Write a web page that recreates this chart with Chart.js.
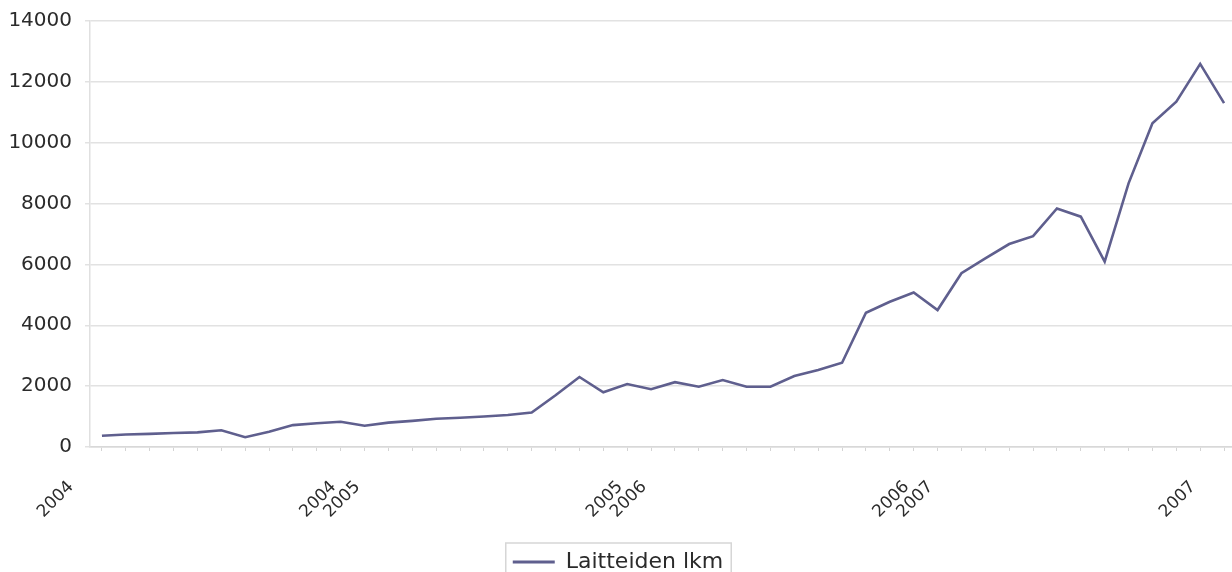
<!DOCTYPE html>
<html>
<head>
<meta charset="utf-8">
<script src="https://cdn.jsdelivr.net/npm/chart.js@4/dist/chart.umd.min.js"></script>
<style>
  html, body { margin: 0; padding: 0; background: #fff; overflow: hidden; }
  #wrap { position: absolute; left: 0; top: 0; width: 1236px; height: 583px; }
</style>
</head>
<body>
<div id="wrap"><canvas id="chart1"></canvas></div>
<script>
// monthly device counts, Jan 2004 .. Dec 2007
var seriesName = "Laitteiden lkm";
var values = [
  370, 410, 430, 460, 480, 550, 320, 500, 720, 780, 830, 700,
  800, 860, 930, 960, 1000, 1050, 1130, 1700, 2300, 1800, 2070, 1900,
  2130, 1980, 2200, 1980, 1980, 2330, 2530, 2770, 4410, 4775, 5080, 4500,
  5710, 6200, 6670, 6930, 7840, 7570, 6090, 8665, 10640, 11350, 12590, 11300
];
// only first and last month of each year carry a label
var labels = [
  "2004", "", "", "", "", "", "", "", "", "", "", "2004",
  "2005", "", "", "", "", "", "", "", "", "", "", "2005",
  "2006", "", "", "", "", "", "", "", "", "", "", "2006",
  "2007", "", "", "", "", "", "", "", "", "", "", "2007"
];
var yTicks = [0, 2000, 4000, 6000, 8000, 10000, 12000, 14000];

var lineColor = "#5f5f8e";
var textColor = "#2b2b2b";
var gridColor = "#e2e2e2";

const ctx = document.getElementById("chart1");

var myChart = new Chart(ctx, {
  type: "line",
  data: {
    labels: labels,
    datasets: [
      {
        label: seriesName,
        data: values,
        borderColor: lineColor,
        backgroundColor: lineColor,
        borderWidth: 2.6,
        pointRadius: 0,
        tension: 0,
        fill: false,
      },
    ],
  },
  options: {
    responsive: true,
    maintainAspectRatio: false,
    animation: false,
    events: [],
    layout: { padding: { top: 21, left: 0, right: 0, bottom: 0 } },
    plugins: {
      tooltip: { enabled: false },
      legend: {
        display: true,
        position: "bottom",
        labels: {
          boxWidth: 42,
          boxHeight: 3,
          padding: 8,
          color: textColor,
          font: { family: "DejaVu Sans", size: 22 },
          generateLabels: function (chart) {
            return Chart.defaults.plugins.legend.labels
              .generateLabels(chart)
              .map(function (item) {
                item.lineWidth = 0;
                item.fillStyle = lineColor;
                return item;
              });
          },
        },
      },
    },
    scales: {
      x: {
        type: "category",
        offset: true,
        grid: {
          drawOnChartArea: false,
          drawTicks: true,
          tickLength: 4,
          color: "#d4d4d4",
        },
        border: { display: true, color: "#d8d8d8", width: 1.5 },
        ticks: {
          autoSkip: false,
          maxRotation: 45,
          minRotation: 45,
          padding: 26,
          labelOffset: -31,
          color: textColor,
          font: { family: "DejaVu Sans", size: 17 },
        },
        afterFit: function (scale) {
          scale.height = 96;
          // let the plot run to the right edge like the original
          scale.paddingLeft = 0;
          scale.paddingRight = 0;
        },
      },
      y: {
        min: 0,
        max: 14000,
        afterBuildTicks: function (scale) {
          scale.ticks = yTicks.map(function (v) { return { value: v }; });
        },
        grid: {
          color: gridColor,
          lineWidth: 1.5,
          tickLength: 5,
        },
        border: { display: true, color: "#e0e0e0", width: 1.5 },
        ticks: {
          padding: 13,
          color: textColor,
          font: { family: "DejaVu Sans", size: 20 },
          callback: function (value) {
            return String(value);
          },
        },
        afterFit: function (scale) {
          scale.width = 90;
          scale.paddingTop = 0;
          scale.paddingBottom = 0;
        },
      },
    },
  },
  plugins: [
    {
      id: "legendFrame",
      afterDraw: function (chart) {
        var lg = chart.legend;
        if (!lg || !lg.legendHitBoxes || !lg.legendHitBoxes.length) return;
        var hb = lg.legendHitBoxes[0];
        var c = chart.ctx;
        var cy = hb.top + hb.height / 2;
        c.save();
        c.strokeStyle = "#d6d6d6";
        c.lineWidth = 1.5;
        c.strokeRect(hb.left - 7, cy - 19, hb.width + 15, 60);
        c.restore();
      },
    },
  ],
});
</script>
</body>
</html>
